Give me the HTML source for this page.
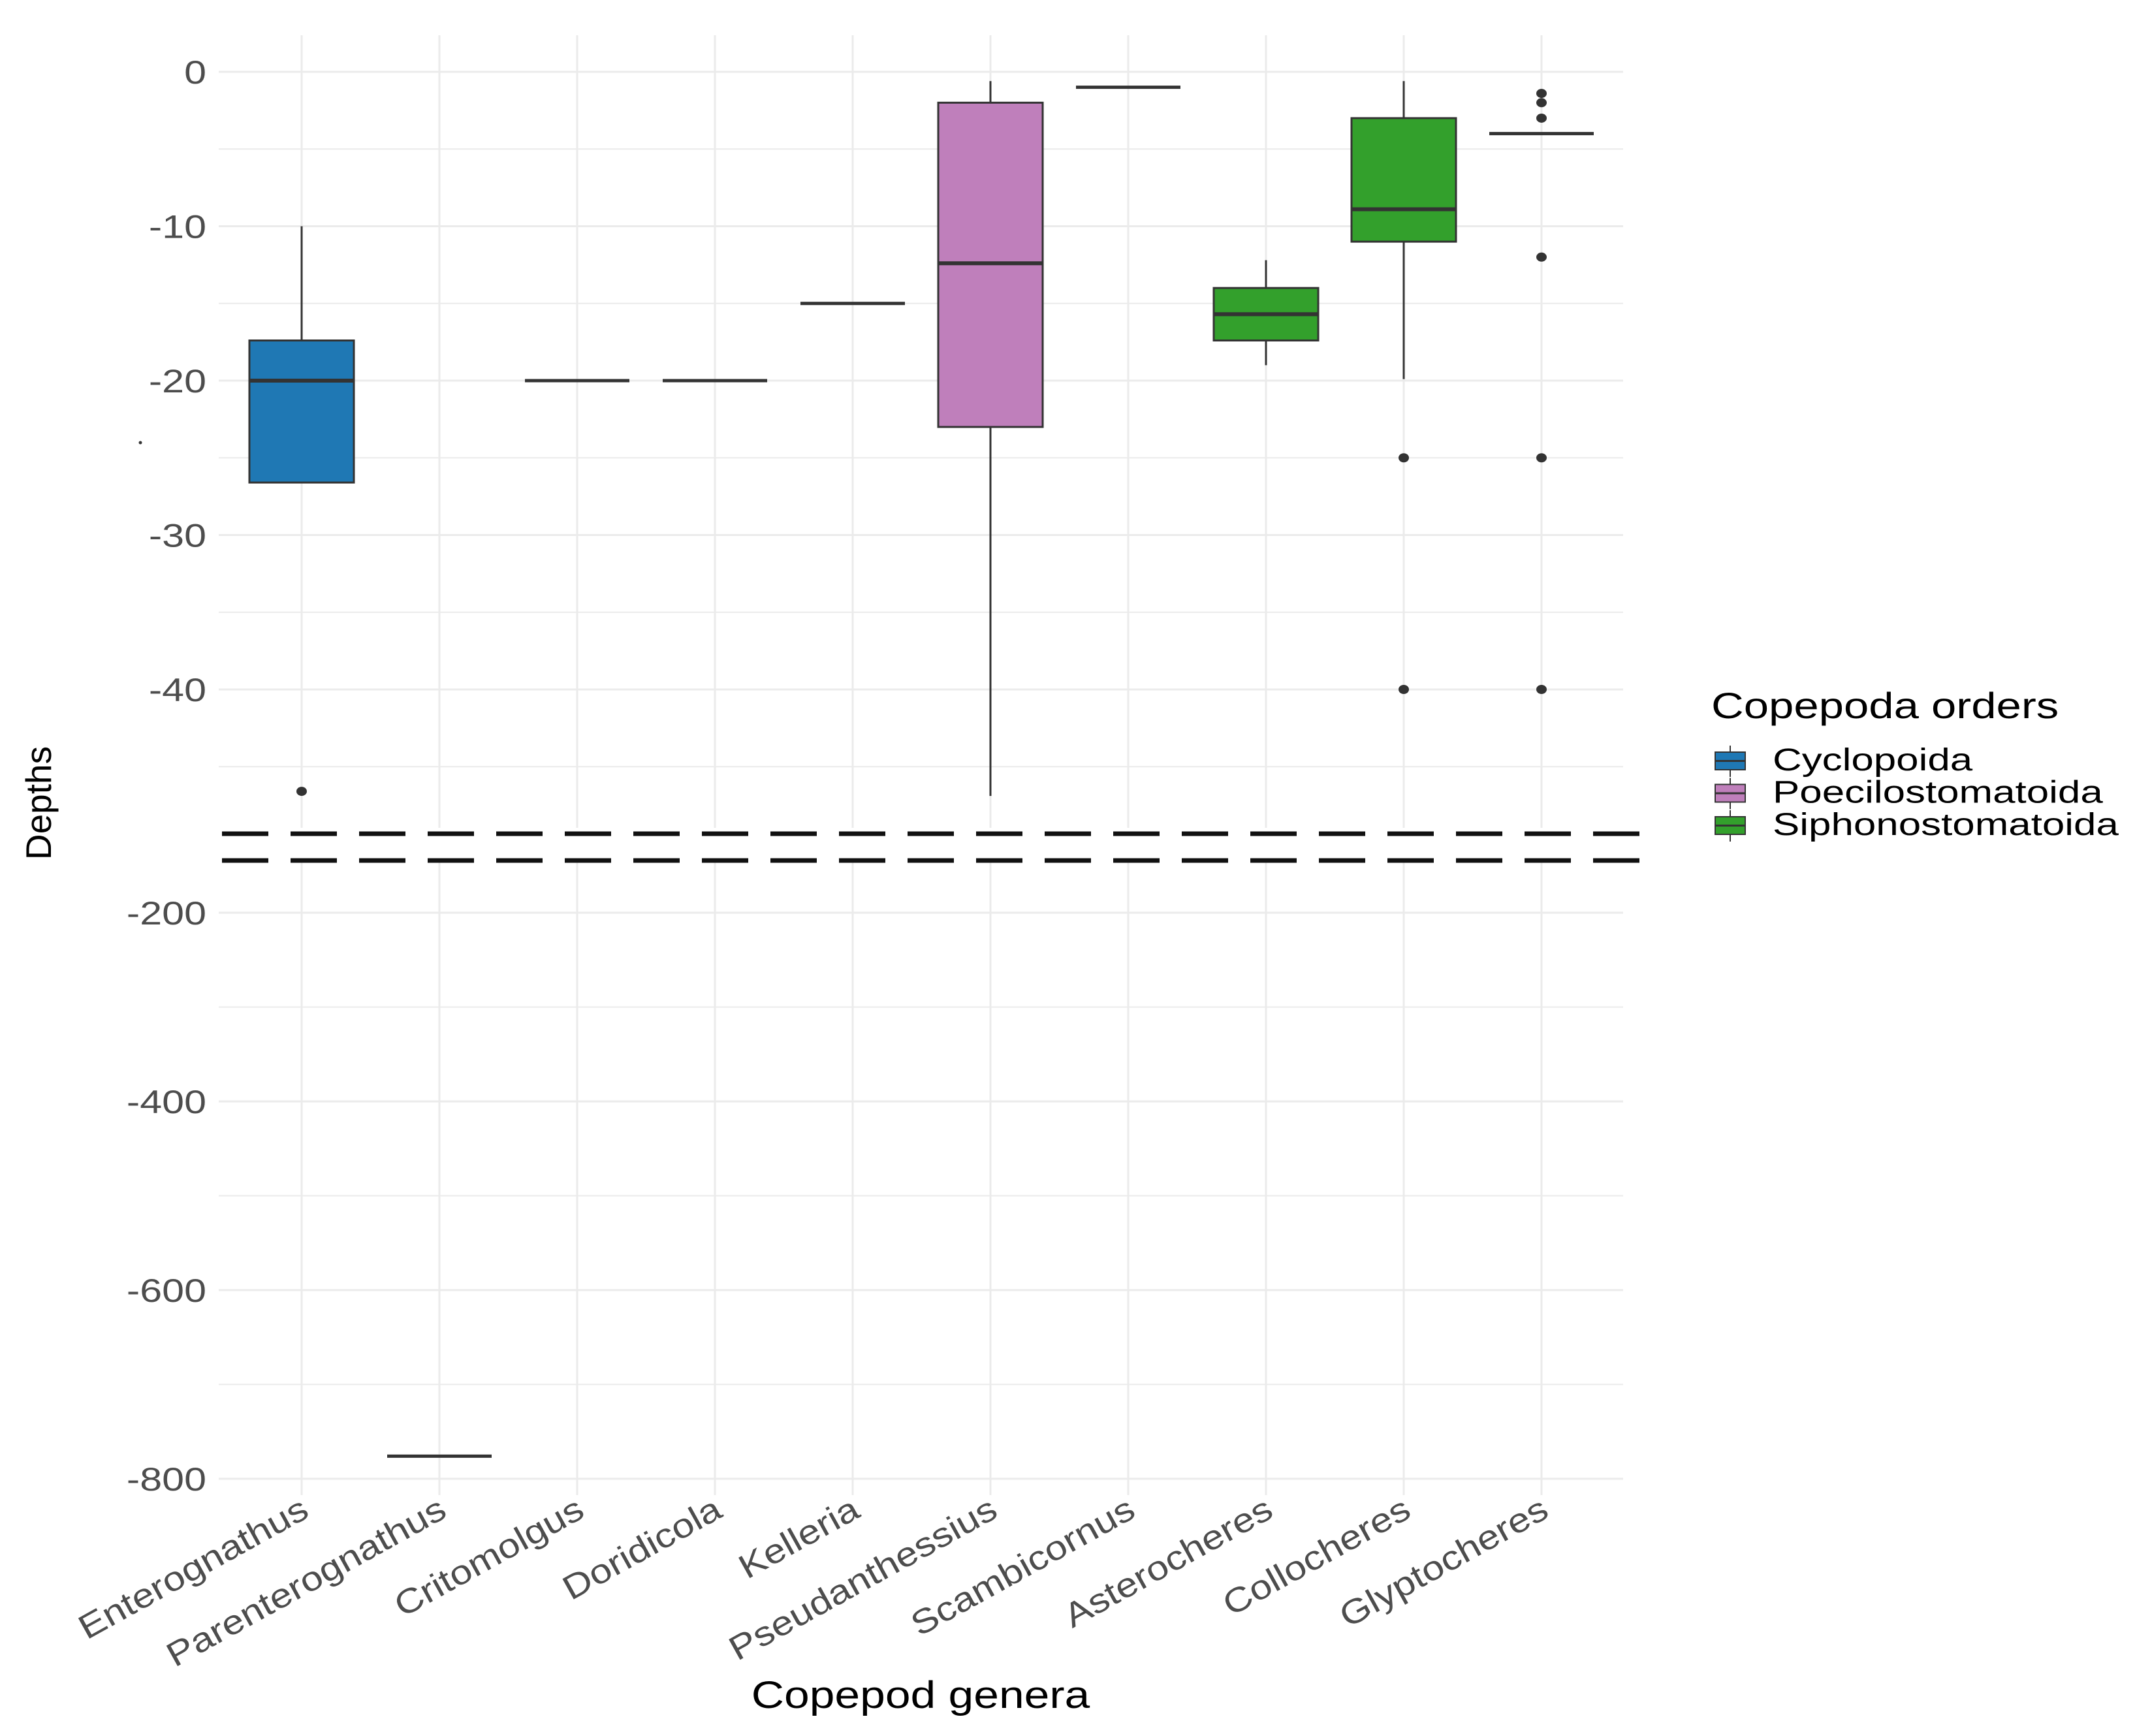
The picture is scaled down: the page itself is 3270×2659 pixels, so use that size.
<!DOCTYPE html>
<html><head><meta charset="utf-8"><style>
html,body{margin:0;padding:0;background:#fff}
svg{display:block;font-family:"Liberation Sans",sans-serif}
</style></head><body>
<svg id="chart" width="3270" height="2659" viewBox="0 0 3270 2659" xmlns="http://www.w3.org/2000/svg">
<g id="grid"></g>
<g id="marks"></g>
<g id="axes"></g>
<g id="legend"></g>
</svg>
<script>
const genera = ["Enterognathus","Parenterognathus","Critomolgus","Doridicola","Kelleria","Pseudanthessius","Scambicornus","Asterocheres","Collocheres","Glyptocheres"];
const orders = ["Cyclopoida","Cyclopoida","Poecilostomatoida","Poecilostomatoida","Poecilostomatoida","Poecilostomatoida","Poecilostomatoida","Siphonostomatoida","Siphonostomatoida","Siphonostomatoida"];
const whiskerHigh = [-10,-776,-20,-20,-15,-0.6,-1,-12.2,-0.6,-4];
const q3 = [-17.4,-776,-20,-20,-15,-2,-1,-14,-3,-4];
const median = [-20,-776,-20,-20,-15,-12.4,-1,-15.7,-8.9,-4];
const q1 = [-26.6,-776,-20,-20,-15,-23,-1,-17.4,-11,-4];
const whiskerLow = [-26.6,-776,-20,-20,-15,-46.9,-1,-19,-19.9,-4];
const outliers = [[-46.6],[],[],[],[],[],[],[],[-25,-40],[-1.4,-2,-3,-12,-25,-40]];
const upperTicks = [0,-10,-20,-30,-40];
const upperMinor = [-5,-15,-25,-35,-45];
const lowerTicks = [-200,-400,-600,-800];
const lowerMinor = [-300,-500,-700];
const orderNames = ["Cyclopoida","Poecilostomatoida","Siphonostomatoida"];
const orderColors = ["#1f78b4","#bf7fbb","#33a02c"];

const NS="http://www.w3.org/2000/svg";
const PL=335, PR=2486;
function xPos(i){return 462+i*211;}
function yPos(v){ return v>=-60 ? 110+(-v)*23.65 : 1398+(-v-200)*1.445; }
function mk(tag,attrs,parent){const e=document.createElementNS(NS,tag);for(const k in attrs)e.setAttribute(k,attrs[k]);parent.appendChild(e);return e;}
const grid=document.getElementById('grid'),marks=document.getElementById('marks'),axes=document.getElementById('axes'),legend=document.getElementById('legend');

function hline(v,w,parent,name){const l=mk('line',{x1:PL,x2:PR,y1:yPos(v),y2:yPos(v),stroke:'#ebebeb','stroke-width':w},parent);

}
upperMinor.forEach(v=>hline(v,2,grid,'minor-gridline'));
lowerMinor.forEach(v=>hline(v,2,grid,'minor-gridline'));
upperTicks.forEach(v=>hline(v,3,grid,'major-gridline'));
lowerTicks.forEach(v=>hline(v,3,grid,'major-gridline'));
genera.forEach((g,i)=>{
  [[54,1268],[1320,2290]].forEach(r=>{const l=mk('line',{x1:xPos(i),x2:xPos(i),y1:r[0],y2:r[1],stroke:'#ebebeb','stroke-width':3},grid);
  
  });
});

genera.forEach((g,i)=>{
  const x=xPos(i), hw=80, col=orderColors[orderNames.indexOf(orders[i])];
  const grp=mk('g',{},marks);
  
  
  mk('line',{x1:x,x2:x,y1:yPos(whiskerHigh[i]),y2:yPos(q3[i]),stroke:'#333','stroke-width':3},grp);
  mk('line',{x1:x,x2:x,y1:yPos(q1[i]),y2:yPos(whiskerLow[i]),stroke:'#333','stroke-width':3},grp);
  const h=yPos(q1[i])-yPos(q3[i]);
  if(h>2){mk('rect',{x:x-hw,y:yPos(q3[i]),width:2*hw,height:h,fill:col,stroke:'#333','stroke-width':3},grp);}
  mk('line',{x1:x-hw,x2:x+hw,y1:yPos(median[i]),y2:yPos(median[i]),stroke:'#333','stroke-width':h>2?6:5},grp);
  outliers[i].forEach(v=>{const c=mk('ellipse',{cx:x,cy:yPos(v),rx:8,ry:7,fill:'#333'},grp);
  
  });
});

[1277,1318].forEach(y=>{const l=mk('line',{x1:340,x2:2536,y1:y,y2:y,stroke:'#111','stroke-width':7,'stroke-dasharray':'71 34'},axes);

});
mk('circle',{cx:215,cy:678,r:2.5,fill:'#333'},axes);

function txt(s,x,y,size,fill,anchor,sx,parent,name){
  const t=mk('text',{transform:`translate(${x},${y}) scale(${sx},1)`,'font-size':size,fill:fill,'text-anchor':anchor},parent);
  t.textContent=s;
  
  
  return t;}
upperTicks.concat(lowerTicks).forEach(v=>txt(String(v),316,yPos(v)+18,50,'#4d4d4d','end',1.22,axes,'y-tick-label'));
genera.forEach((g,i)=>{
  const t=mk('text',{transform:`translate(${xPos(i)+14},${2322}) rotate(-29) scale(1.16,1)`,'font-size':52,fill:'#4d4d4d','text-anchor':'end'},axes);
  t.textContent=g;
  
  
});
txt('Copepod genera',1410,2616,58,'#000','middle',1.2,axes,'x-axis-title');
const yt=mk('text',{transform:'translate(78,1230) rotate(-90)','font-size':55,fill:'#000','text-anchor':'middle'},axes);
yt.textContent='Depths';



txt('Copepoda orders',2621,1100,56,'#000','start',1.23,legend,'legend-title');
orderNames.forEach((n,k)=>{
  const by=1180+k*49.5;
  const g=mk('g',{},legend);
  
  
  mk('line',{x1:2650,x2:2650,y1:by-38,y2:by+10,stroke:'#333','stroke-width':2},g);
  mk('rect',{x:2627,y:by-28,width:46,height:27,fill:orderColors[k],stroke:'#333','stroke-width':2},g);
  mk('line',{x1:2627,x2:2673,y1:by-14.5,y2:by-14.5,stroke:'#333','stroke-width':3},g);
  txt(n,2715,by,48,'#000','start',1.29,g,'legend-label');
});
</script>
</body></html>
